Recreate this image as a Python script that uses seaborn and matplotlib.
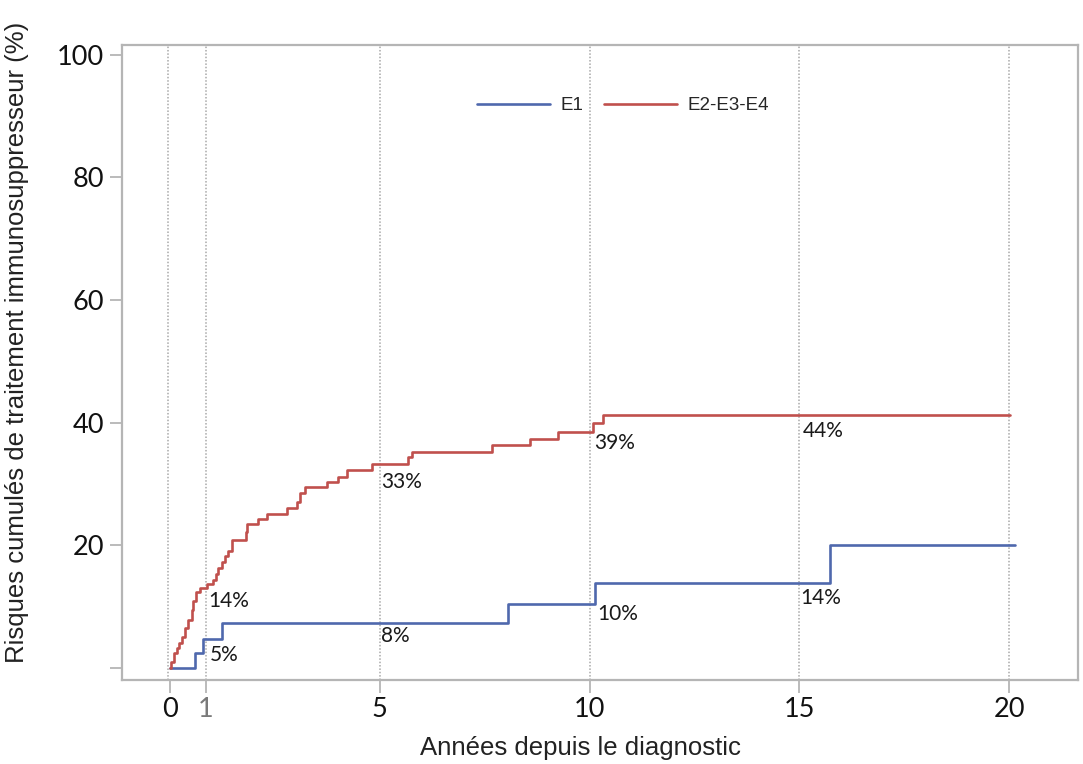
import matplotlib
matplotlib.use("Agg")
import matplotlib.pyplot as plt
import seaborn as sns
import pandas as pd

# ---- data ----
e1_time = [0.0, 0.60, 0.79, 1.24, 8.06, 10.13, 15.73, 20.14]
e1_risk = [0.0, 2.45, 4.7, 7.3, 10.5, 13.9, 20.1, 20.1]

e2_time = [0.0, 0.02, 0.10, 0.16, 0.22, 0.28, 0.36, 0.44, 0.52, 0.55, 0.62,
           0.72, 0.88, 1.03, 1.11, 1.15, 1.23, 1.31, 1.39, 1.47, 1.81, 1.83,
           2.10, 2.32, 2.78, 3.02, 3.10, 3.22, 3.74, 4.01, 4.21, 4.81, 5.68,
           5.76, 7.67, 8.58, 9.24, 10.08, 10.31, 20.02]
e2_risk = [0.0, 1.0, 2.4, 3.2, 4.0, 5.1, 6.5, 7.8, 9.5, 10.9, 12.4,
           13.0, 13.7, 14.4, 15.4, 16.3, 17.3, 18.2, 19.0, 20.9, 22.2, 23.5,
           24.3, 25.1, 26.1, 27.1, 28.5, 29.5, 30.4, 31.1, 32.3, 33.3, 34.4,
           35.2, 36.4, 37.4, 38.5, 39.9, 41.2, 41.2]

group_names = ["E1", "E2-E3-E4"]
group_colors = ["#4f68ad", "#c0504d"]

# annotations: (x, y, text)
ann_x = [0.91, 0.95, 5.03, 5.03, 10.10, 10.18, 15.07, 15.02]
ann_y = [10.9, 2.1, 5.2, 30.3, 36.7, 8.8, 38.7, 11.4]
ann_text = ["14%", "5%", "8%", "33%", "39%", "10%", "44%", "14%"]

ref_lines_x = [-0.05, 0.86, 5, 10, 15, 20]
xtick_pos = [0, 0.86, 5, 10, 15, 20]
xtick_lab = ["0", "1", "5", "10", "15", "20"]
ytick_pos = [0, 20, 40, 60, 80, 100]
ytick_lab = ["", "20", "40", "60", "80", "100"]

df = pd.concat([
    pd.DataFrame({"t": e1_time, "risk": e1_risk, "group": group_names[0]}),
    pd.DataFrame({"t": e2_time, "risk": e2_risk, "group": group_names[1]}),
], ignore_index=True)

sns.set_theme(style="white")
plt.rcParams["font.family"] = ["Liberation Sans", "DejaVu Sans"]

fig = plt.figure(figsize=(10.83, 7.64), dpi=100)
ax = fig.add_axes([0.1127, 0.110, 0.8827, 0.831])

grey = "#b5b5b5"
for xv in ref_lines_x:
    ax.axvline(xv, color="#a8a8a8", linestyle=(0, (1, 1.2)), linewidth=1.1, zorder=1)

sns.lineplot(data=df, x="t", y="risk", hue="group", hue_order=group_names,
             palette=group_colors, drawstyle="steps-post", estimator=None,
             linewidth=1.9, ax=ax, zorder=3)

for x, y, s in zip(ann_x, ann_y, ann_text):
    ax.text(x, y, s, fontsize=15, family="Lato", color="#1a1a1a",
            ha="left", va="center", zorder=4)

ax.set_xlim(-1.14, 21.64)
ax.set_ylim(-1.96, 101.6)

ax.set_xticks(xtick_pos)
ax.set_xticklabels(xtick_lab, family="Lato", fontsize=19.5, color="#111111")
ax.set_yticks(ytick_pos)
ax.set_yticklabels(ytick_lab, family="Lato", fontsize=19.5, color="#111111")
xl = ax.get_xticklabels()
xl[1].set_color("#7a7a7a")
ax.xaxis.get_major_ticks()[1].tick1line.set_visible(False)

ax.tick_params(axis="both", which="major", direction="out", length=9,
               width=1.3, color=grey, bottom=True, left=True)
ax.tick_params(axis="x", pad=3)
ax.tick_params(axis="y", pad=4)

for sp in ax.spines.values():
    sp.set_color(grey)
    sp.set_linewidth(1.6)

ax.set_xlabel("Années depuis le diagnostic", fontsize=18.5, color="#222222")
ax.set_ylabel("Risques cumulés de traitement immunosuppresseur (%)", fontsize=18.5,
              color="#222222")
ax.xaxis.set_label_coords(0.479, -0.088)
ax.yaxis.set_label_coords(-0.097, 0.532)

handles, labels = ax.get_legend_handles_labels()
ax.legend(handles=handles, labels=labels, ncol=2, frameon=False,
          loc="center", bbox_to_anchor=(0.575, 0.8617),
          bbox_transform=fig.transFigure, fontsize=13.5,
          handlelength=3.9, handletextpad=0.57, columnspacing=1.08,
          borderpad=0, borderaxespad=0)

fig.savefig("out.png", dpi=100)
